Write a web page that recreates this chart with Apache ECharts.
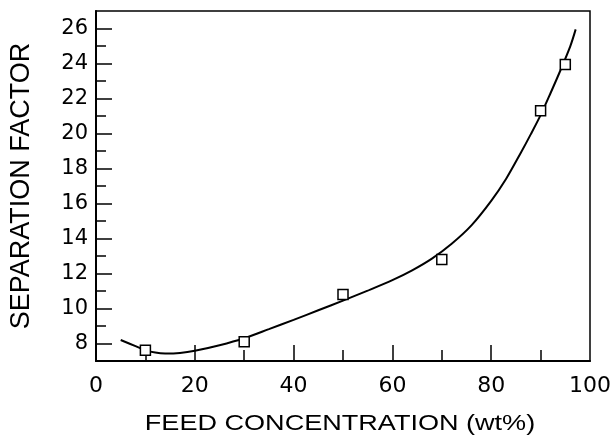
<!DOCTYPE html>
<html>
<head>
<meta charset="utf-8">
<script src="https://cdn.jsdelivr.net/npm/echarts@6/dist/echarts.min.js"></script>
<style>
html,body{margin:0;padding:0;background:#fff;}
#chart{width:616px;height:439px;}
</style>
</head>
<body>
<div id="chart"></div>
<script>
// Measured points
const feedConc = [10, 30, 50, 70, 90, 95];
const sepFactor = [7.62, 8.1, 10.8, 12.8, 21.3, 23.95];
// Fitted curve
const curveX = [5, 8, 10, 12, 14, 17, 20, 25, 30, 35, 40, 45, 50, 55, 60, 64, 68, 72, 76, 80, 83, 86, 88, 90, 92, 94, 96, 97.1];
const curveY = [8.2, 7.85, 7.62, 7.48, 7.43, 7.46, 7.58, 7.9, 8.3, 8.82, 9.35, 9.9, 10.45, 11.02, 11.62, 12.18, 12.85, 13.7, 14.75, 16.15, 17.4, 18.9, 19.95, 21.05, 22.3, 23.6, 24.98, 25.95];
// Ticks
const xLabelTicks = [0, 20, 40, 60, 80, 100];
const xMajorTicks = [20, 40, 60, 80];
const xMinorTicks = [10, 30, 50, 70, 90];
const yLabelTicks = [8, 10, 12, 14, 16, 18, 20, 22, 24, 26];
const yMinorTicks = [9, 11, 13, 15, 17, 19, 21, 23, 25];
const xTitle = 'FEED CONCENTRATION (wt%)';
const yTitle = 'SEPARATION FACTOR';

const chart = echarts.init(document.getElementById('chart'));
const lineStyleAxis = {color: '#000', width: 2};
const option = {
  animation: false,
  backgroundColor: '#fff',
  grid: {left: 96, right: 26, top: 11, bottom: 78, show: true, borderColor: '#000', borderWidth: 1.5, backgroundColor: 'transparent'},
  xAxis: [
    {
      type: 'value', min: 0, max: 100,
      axisLine: {show: true, lineStyle: lineStyleAxis},
      axisTick: {show: true, inside: true, length: 16, customValues: xMajorTicks, lineStyle: {color: '#000', width: 1.5}},
      axisLabel: {show: true, customValues: xLabelTicks, margin: 14, color: '#000', fontFamily: 'DejaVu Sans', fontSize: 22},
      splitLine: {show: false}
    },
    {
      type: 'value', min: 0, max: 100, position: 'bottom',
      axisLine: {show: false},
      axisTick: {show: true, inside: true, length: 11, customValues: xMinorTicks, lineStyle: {color: '#000', width: 1.5}},
      axisLabel: {show: false},
      splitLine: {show: false}
    }
  ],
  yAxis: [
    {
      type: 'value', min: 7, max: 27,
      axisLine: {show: true, lineStyle: lineStyleAxis},
      axisTick: {show: true, inside: true, length: 16, customValues: yLabelTicks, lineStyle: {color: '#000', width: 1.5}},
      axisLabel: {show: true, customValues: yLabelTicks, margin: 8, color: '#000', fontFamily: 'DejaVu Sans', fontSize: 21},
      splitLine: {show: false}
    },
    {
      type: 'value', min: 7, max: 27, position: 'left',
      axisLine: {show: false},
      axisTick: {show: true, inside: true, length: 10, customValues: yMinorTicks, lineStyle: {color: '#000', width: 1.5}},
      axisLabel: {show: false},
      splitLine: {show: false}
    }
  ],
  graphic: [
    {
      type: 'text', x: 340, y: 424,
      style: {text: xTitle, fill: '#000', font: '22px "Liberation Sans", Arial, sans-serif', textAlign: 'center', textVerticalAlign: 'middle'},
      scaleX: 1.23
    },
    {
      type: 'text', x: 22, y: 186, rotation: Math.PI / 2,
      style: {text: yTitle, fill: '#000', font: '27px "Liberation Sans", Arial, sans-serif', textAlign: 'center', textVerticalAlign: 'middle'}
    }
  ],
  series: [
    {
      type: 'line', xAxisIndex: 0, yAxisIndex: 0,
      data: curveX.map((x, i) => [x, curveY[i]]),
      smooth: 0.3, showSymbol: false, symbol: 'none',
      lineStyle: {color: '#000', width: 2}, z: 2
    },
    {
      type: 'scatter', xAxisIndex: 0, yAxisIndex: 0,
      data: feedConc.map((x, i) => [x, sepFactor[i]]),
      symbol: 'rect', symbolSize: 10,
      itemStyle: {color: '#fff', borderColor: '#000', borderWidth: 1.5, opacity: 1}, z: 3
    }
  ]
};
chart.setOption(option);
</script>
</body>
</html>
